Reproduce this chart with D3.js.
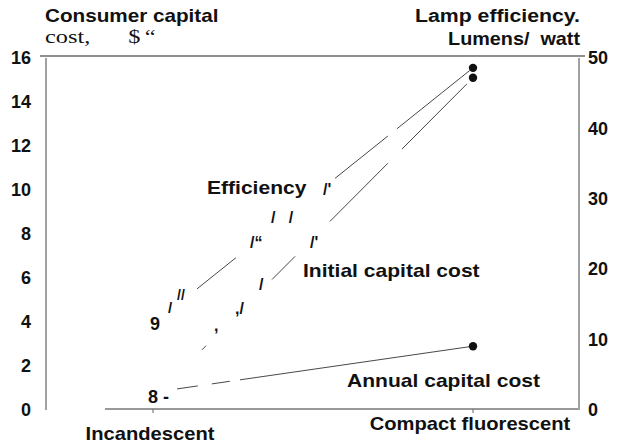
<!DOCTYPE html>
<html>
<head>
<meta charset="utf-8">
<script src="https://cdn.jsdelivr.net/npm/d3@7/dist/d3.min.js"></script>
<style>
  body { margin: 0; background: #fff; }
  text { font-family: "Liberation Sans", Arial, sans-serif; font-weight: bold; fill: #111; white-space: pre; }
</style>
</head>
<body>
<script>
// data
const categories = ["Incandescent", "Compact fluorescent"];
const efficiency = [12.2, 48.6];   // lumens per watt (right axis)
const initialCost = [0.5, 15.1];   // $ (left axis)
const annualCost = [0.8, 2.9];     // $ (left axis)
const leftTicks = [0, 2, 4, 6, 8, 10, 12, 14, 16];
const rightTicks = [0, 10, 20, 30, 40, 50];

const w = 618, h = 447;
const svg = d3.select("body").append("svg")
  .attr("width", w)
  .attr("height", h);

const x = d3.scalePoint().domain(categories).range([153, 473]);
const yL = d3.scaleLinear().domain([0, 16]).range([410, 58]);
const yR = d3.scaleLinear().domain([0, 50]).range([410, 58]);

// the scan stretches lettering a bit sideways
const SX = 1.17;
function label(txt, px, py, size, anchor, sx) {
  return svg.append("text")
    .attr("transform", `translate(${px},${py}) scale(${sx || SX},1)`)
    .attr("text-anchor", anchor || "start")
    .attr("xml:space", "preserve")
    .style("font-size", size + "px")
    .text(txt);
}

// frame
svg.append("line").attr("x1", 40).attr("x2", 585).attr("y1", 56).attr("y2", 56)
  .attr("stroke", "#222").attr("stroke-width", 1.2);
svg.append("line").attr("x1", 46).attr("x2", 46).attr("y1", 58).attr("y2", 410)
  .attr("stroke", "#444").attr("stroke-width", 1);
svg.append("line").attr("x1", 579).attr("x2", 579).attr("y1", 58).attr("y2", 410)
  .attr("stroke", "#444").attr("stroke-width", 1);
svg.append("line").attr("x1", 105).attr("x2", 578).attr("y1", 409).attr("y2", 409)
  .attr("stroke", "#333").attr("stroke-width", 1);

// left and right axes (labels only, lines drawn above)
const axL = svg.append("g").attr("transform", "translate(31,0)")
  .call(d3.axisLeft(yL).tickValues(leftTicks).tickSize(0).tickPadding(0));
const axR = svg.append("g").attr("transform", "translate(588,0)")
  .call(d3.axisRight(yR).tickValues(rightTicks).tickSize(0).tickPadding(0));
[axL, axR].forEach(function(ax) {
  ax.select(".domain").remove();
  ax.selectAll("text")
    .style("font-family", "'Liberation Sans', Arial, sans-serif")
    .style("font-weight", "bold")
    .style("font-size", "18px")
    .attr("fill", "#111");
});

// category ticks and names
const catBase = { "Incandescent": 440, "Compact fluorescent": 430 };
categories.forEach(function(c) {
  svg.append("line").attr("x1", x(c)).attr("x2", x(c)).attr("y1", 409).attr("y2", 413)
    .attr("stroke", "#666");
  label(c, x(c) - 3, catBase[c], 18, "middle", 1.12);
});

// series lines, broken up the way the scan shows them
const series = [
  { name: "Efficiency", values: efficiency, y: yR, keep: [[0.1375, 0.259], [0.569, 0.734], [0.762, 0.99]] },
  { name: "Initial capital cost", values: initialCost, y: yL, keep: [[0.153, 0.166], [0.372, 0.444], [0.553, 0.734], [0.778, 0.981]] },
  { name: "Annual capital cost", values: annualCost, y: yL, keep: [[0.075, 0.14], [0.184, 0.24], [0.272, 1]] }
];

const line = d3.line()
  .x(function(d) { return x(d.c); })
  .y(function(d) { return d.y; });

series.forEach(function(s) {
  const pts = categories.map(function(c, i) { return { c: c, y: s.y(s.values[i]) }; });
  const path = svg.append("path")
    .attr("d", line(pts))
    .attr("fill", "none")
    .attr("stroke", "#333")
    .attr("stroke-width", 0.9);
  const L = path.node().getTotalLength();
  const dash = [0];
  let prev = 0;
  s.keep.forEach(function(k) {
    dash.push(k[0] * L - prev, (k[1] - k[0]) * L);
    prev = k[1] * L;
  });
  dash.push(L + 10);
  path.attr("stroke-dasharray", dash.join(","));

  svg.append("circle")
    .attr("cx", x(categories[1]))
    .attr("cy", s.y(s.values[1]))
    .attr("r", 4.2)
    .attr("fill", "#111");
});

// titles
label("Consumer capital", 45, 22, 18, "start", 1.15);
const cost = svg.append("text")
  .attr("transform", "translate(45,43) scale(1.28,1)")
  .style("font-family", "'Liberation Serif', 'Times New Roman', serif")
  .style("font-weight", "normal")
  .style("font-size", "19px");
cost.append("tspan").attr("x", 0).text("cost,");
cost.append("tspan").attr("x", 65).text("$");
cost.append("tspan").attr("x", 78).text("\u201c");
label("Lamp efficiency.", 580, 22, 19, "end", 1.12);
label("Lumens/  watt", 580, 45, 18, "end", 1.1);

// series names
label("Efficiency", 207, 194, 18);
label("Initial capital cost", 303, 277, 18);
label("Annual capital cost", 347, 387, 18);

// stray marks left by the scan
const marks = [
  ["9", 150, 330, 18], ["8 -", 148, 403, 18],
  ["/", 168, 313, 15], ["//", 177, 300, 14],
  [",", 214, 331, 16], [",/", 235, 314, 16],
  ["/", 259, 290, 16], ["/\u201c", 250, 248, 16],
  ["/   /", 271, 223, 16], ["/'", 310, 248, 16],
  ["/'", 323, 195, 16]
];
marks.forEach(function(m) { label(m[0], m[1], m[2], m[3], "start", 1); });
</script>
</body>
</html>
